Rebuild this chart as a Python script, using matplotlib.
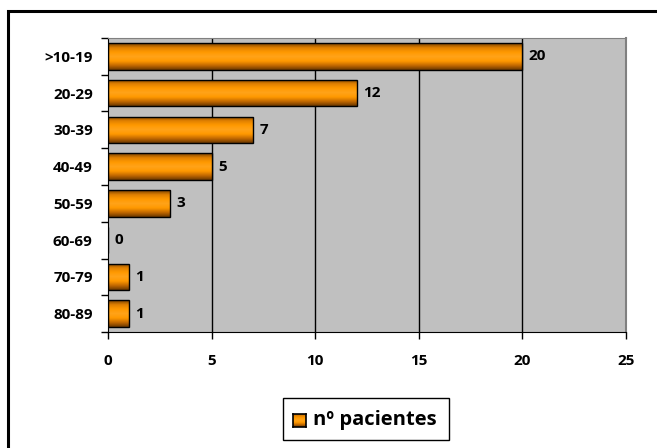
import numpy as np
import matplotlib.pyplot as plt
from matplotlib.colors import LinearSegmentedColormap
from matplotlib.patches import Rectangle

plt.rcParams['font.family'] = ['Open Sans', 'DejaVu Sans']
plt.rcParams['font.weight'] = 'bold'

# age groups and number of patients
grupos = ['>10-19', '20-29', '30-39', '40-49', '50-59', '60-69', '70-79', '80-89']
pacientes = [20, 12, 7, 5, 3, 0, 1, 1]
xticks = [0, 5, 10, 15, 20, 25]

fig = plt.figure(figsize=(6.57, 4.48), dpi=100)
ax = fig.add_axes([108/657, 1 - 332/448, 518/657, 294/448])
ax.set_facecolor('#C0C0C0')

# orange gradient: dark at top/bottom edges, bright in the middle
cmap = LinearSegmentedColormap.from_list(
    'naranja', ['#7A4100', '#E08000', '#FF9900', '#FFA31A', '#FF9900', '#C46A00', '#6B3800'])
grad = np.linspace(0, 1, 64).reshape(-1, 1)

n = len(grupos)
ypos = np.arange(n)
h = 0.72
bars = ax.barh(ypos, pacientes, height=h, color='none', edgecolor='black', lw=1.0, zorder=3)
for b, v in zip(bars, pacientes):
    if v <= 0:
        continue
    x0, y0 = b.get_x(), b.get_y()
    w, hh = b.get_width(), b.get_height()
    im = ax.imshow(grad, cmap=cmap, aspect='auto', extent=[x0, x0 + w, y0 + hh, y0],
                   zorder=2, interpolation='bilinear')
    im.set_clip_path(b)

for y, v in zip(ypos, pacientes):
    ax.text(v + 0.3, y, str(v), va='center', ha='left', fontsize=11, fontweight='bold', zorder=4)

ax.set_xlim(0, 25)
ax.set_ylim(n - 0.5, -0.5)
ax.set_xticks(xticks)
ax.set_xticklabels([str(t) for t in xticks], fontsize=11, fontweight='bold')
ax.set_yticks(ypos)
ax.set_yticklabels(grupos, fontsize=11, fontweight='bold')
ax.set_yticks(np.arange(-0.5, n, 1), minor=True)
ax.tick_params(axis='y', which='major', length=0, pad=11)
ax.tick_params(axis='y', which='minor', length=5, width=1, direction='out')
ax.tick_params(axis='x', length=5, width=1, direction='out', pad=11)

for v in xticks[1:-1]:
    ax.axvline(v, color='black', lw=1, zorder=1)

ax.spines['left'].set_color('black')
ax.spines['bottom'].set_color('black')
ax.spines['top'].set_color('#808080')
ax.spines['right'].set_color('#808080')
ax.spines['right'].set_linewidth(1.5)
for s in ax.spines.values():
    s.set_zorder(5)

# outer chart border
fig.patches.append(Rectangle((8/657, -0.01), 1.0, 1 - 11/448 + 0.01, transform=fig.transFigure,
                             fill=False, edgecolor='black', lw=2.2))

# legend
lx0, ly0, lw_, lh = 283/657, 1 - 440/448, 166/657, 42/448
fig.patches.append(Rectangle((lx0, ly0), lw_, lh, transform=fig.transFigure,
                             fill=False, edgecolor='black', lw=1))
sax = fig.add_axes([293/657, 1 - 427/448, 13/657, 13/448])
sax.imshow(grad, cmap=cmap, aspect='auto', extent=[0, 1, 1, 0], interpolation='bilinear')
sax.set_xlim(0, 1)
sax.set_ylim(1, 0)
sax.set_xticks([])
sax.set_yticks([])
for s in sax.spines.values():
    s.set_linewidth(1.2)
fig.text(313/657, 1 - 420/448, 'nº pacientes', fontsize=14.5, fontweight='bold', va='center', ha='left')

fig.savefig('out.png', dpi=100)
